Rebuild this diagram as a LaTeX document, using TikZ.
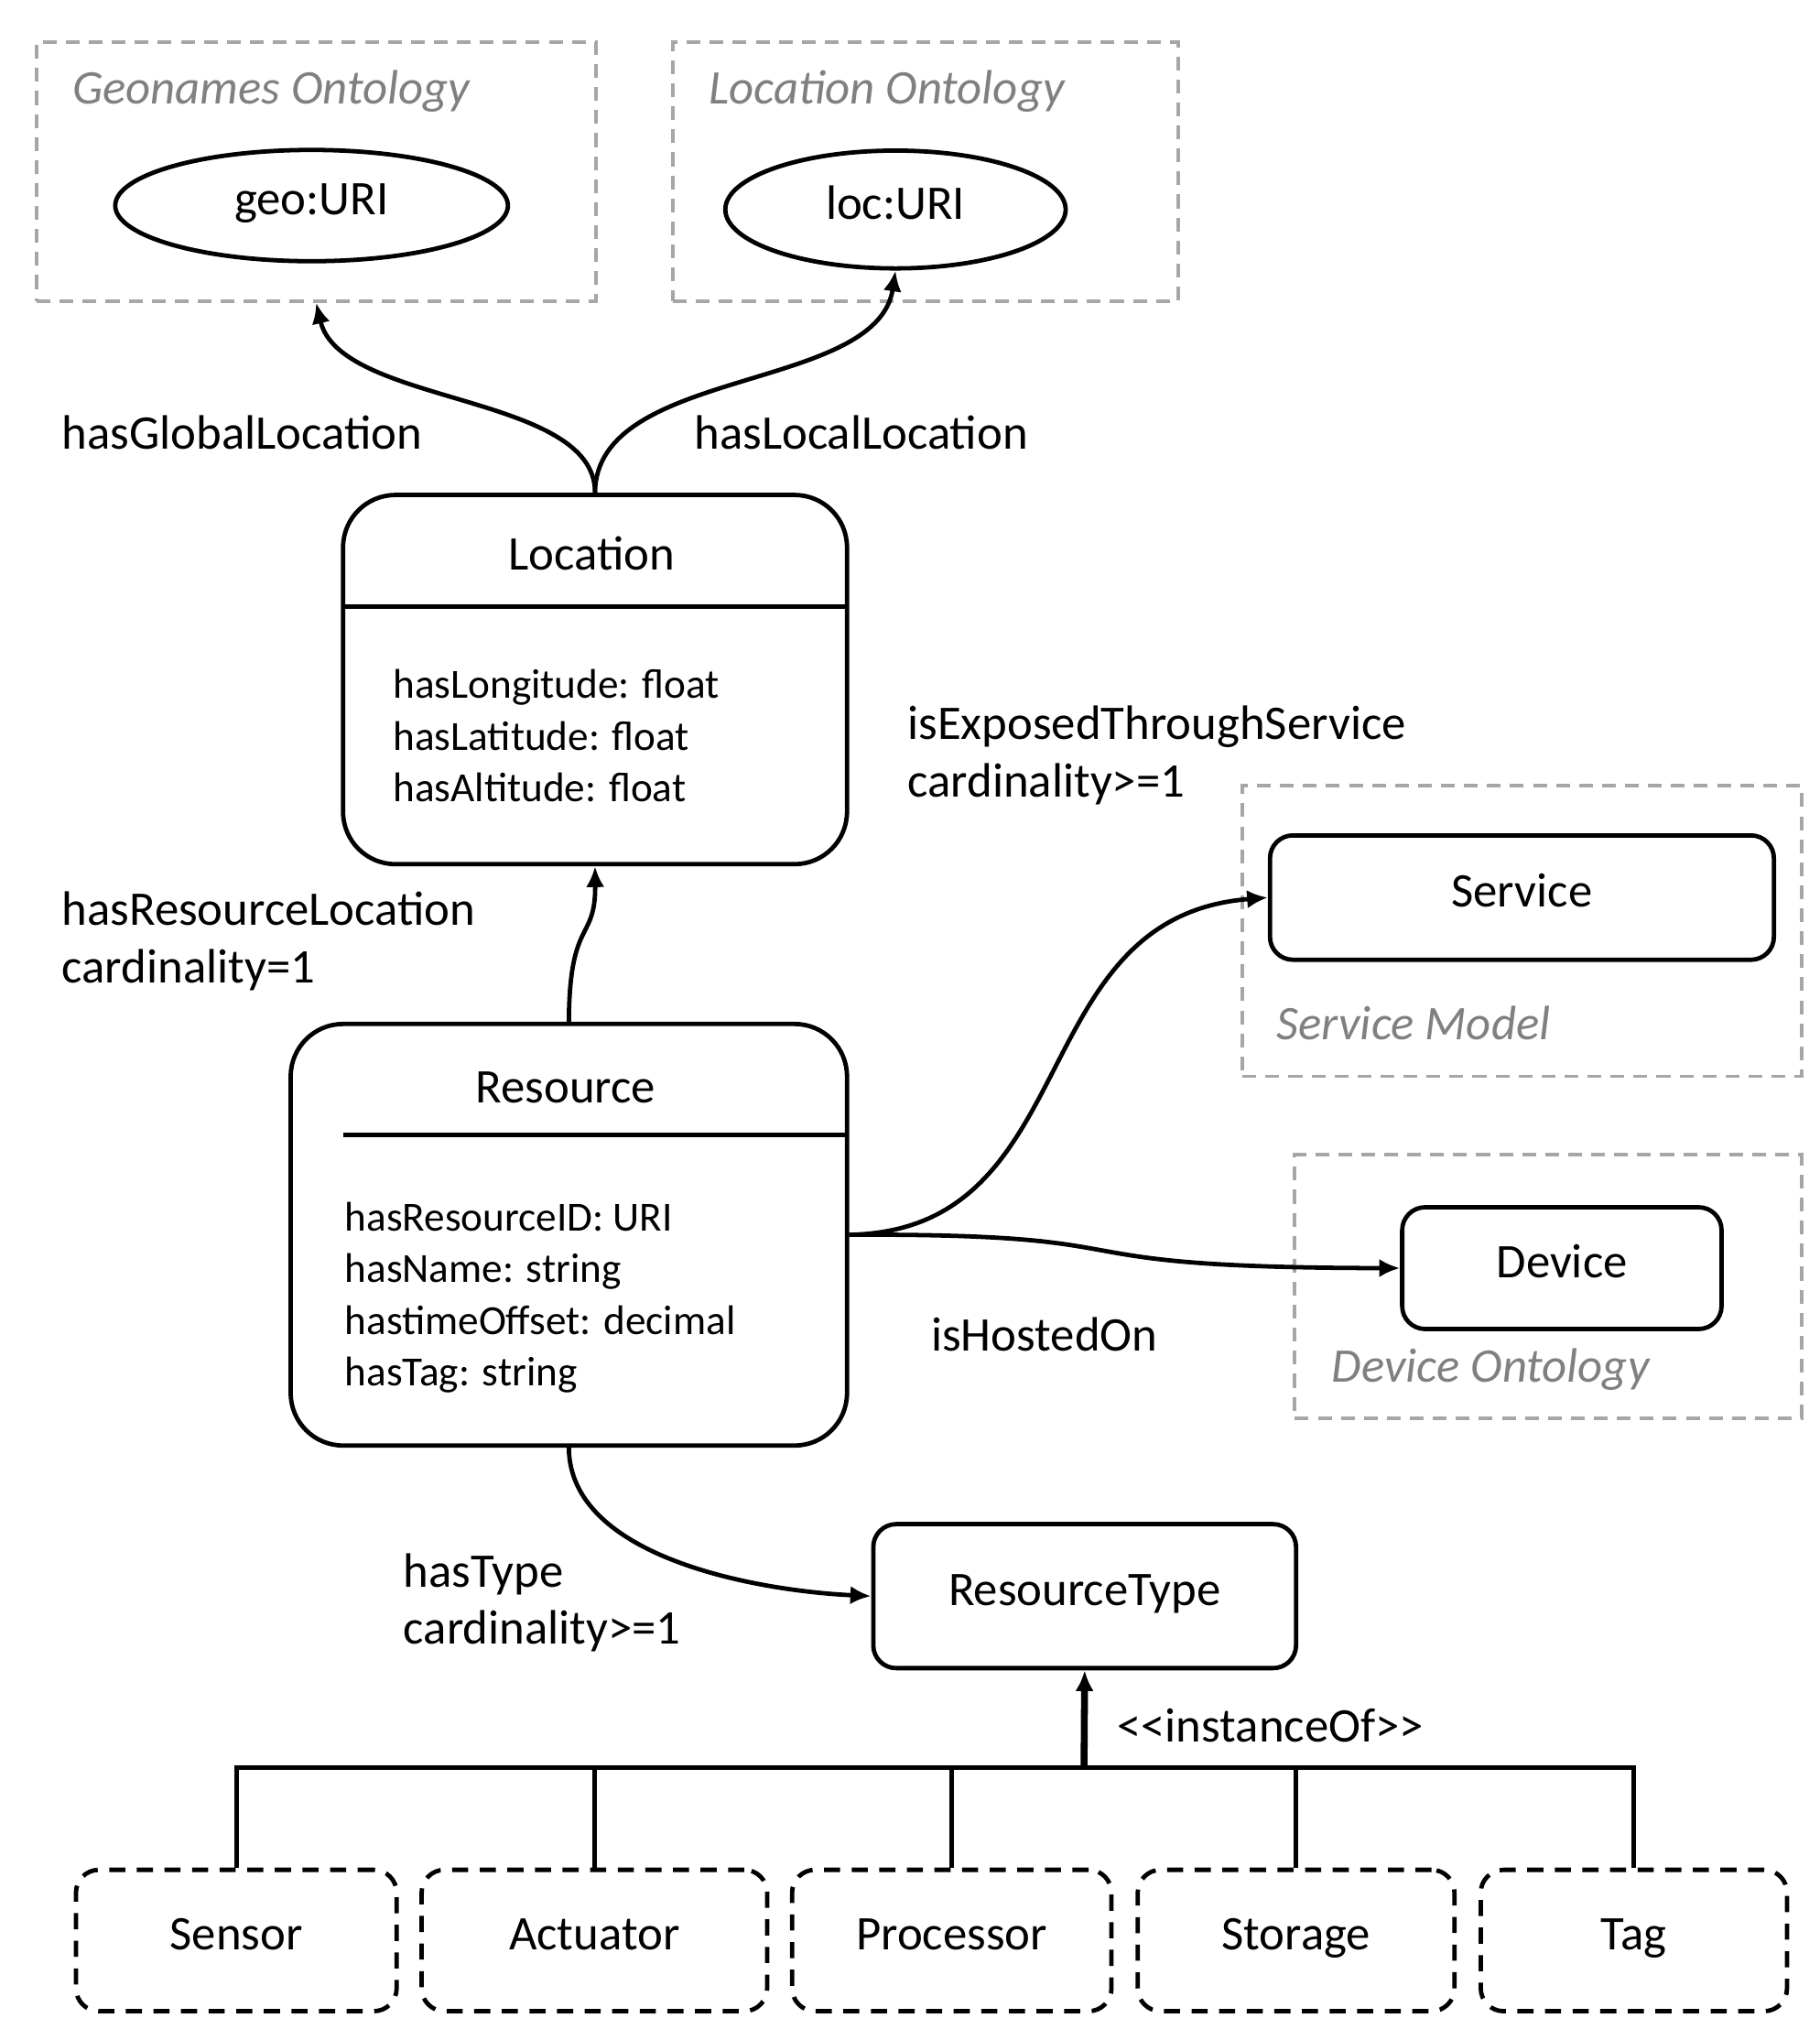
\documentclass[tikz,border=0pt]{standalone}
\usepackage{fontspec}
\setmainfont{Carlito}
\usetikzlibrary{shapes.geometric,arrows.meta}
\begin{document}
\begin{tikzpicture}[x=0.02cm,y=-0.02cm,
  big/.style={font=\fontsize{21}{25}\selectfont,text height=2.2ex,text depth=0.5ex},
  small/.style={font=\fontsize{18}{22.5}\selectfont},
  grp/.style={draw=gray!70,line width=1.5pt,dash pattern=on 6pt off 4pt},
  grptitle/.style={font=\fontsize{21}{25}\selectfont\itshape,text=gray,anchor=west,inner sep=0pt},
  cls/.style={draw,line width=1.9pt,rounded corners=0.8cm,inner sep=0pt},
  box/.style={draw,line width=1.9pt,rounded corners=0.35cm,inner sep=0pt,big},
  dbox/.style={box,dash pattern=on 7pt off 5pt,minimum height=2.16cm},
  uri/.style={draw,ellipse,line width=1.9pt,inner sep=0pt,big},
  arr/.style={line width=1.9pt,-{Latex[length=9pt,width=8pt]}},
  ln/.style={line width=1.9pt},
  lbl/.style={big,anchor=west,inner sep=0pt,text height=,text depth=}]
\useasboundingbox (0,0) rectangle (1390,1558);
% ontology groups
\node[grp,minimum width=8.54cm,minimum height=3.96cm,inner sep=0pt] (geobox) at (241.5,131) {};
\node[grptitle] (geot) at (55,70) {Geonames Ontology};
\node[uri,minimum width=6cm,minimum height=1.7cm] (geo) at (238,157) {geo:URI};
\node[grp,minimum width=7.72cm,minimum height=3.96cm,inner sep=0pt] (locbox) at (707,131) {};
\node[grptitle] (loct) at (541,70) {Location Ontology};
\node[uri,minimum width=5.2cm,minimum height=1.8cm] (locuri) at (684,160) {loc:URI};
\node[grp,minimum width=8.54cm,minimum height=4.44cm,inner sep=0pt] (svbox) at (1162.5,711) {};
\node[grptitle] (svt) at (975,781) {Service Model};
\node[box,minimum width=7.7cm,minimum height=1.9cm] (service) at (1162.5,685.5) {Service};
\node[grp,minimum width=7.74cm,minimum height=4.02cm,inner sep=0pt] (dvbox) at (1182.5,982.5) {};
\node[grptitle] (dvt) at (1017,1046) {Device Ontology};
\node[box,minimum width=4.88cm,minimum height=1.86cm] (device) at (1193,968.5) {Device};
% Location
\node[cls,minimum width=7.7cm,minimum height=5.64cm] (location) at (454.5,519) {};
\node[big] (loctitle) at (452,428) {Location};
\draw[ln] (262,463) -- (647,463);
\node[small,anchor=west,align=left,inner sep=0pt] (locattr) at (300,562) {hasLongitude: float\\hasLatitude: float\\hasAltitude: float};
% Resource
\node[cls,minimum width=8.5cm,minimum height=6.44cm] (resource) at (434.5,943) {};
\node[big] (restitle) at (432,835) {Resource};
\draw[ln] (262,867) -- (647,867);
\node[small,anchor=west,align=left,inner sep=0pt] (resattr) at (263,991) {hasResourceID: URI\\hasName: string\\hastimeOffset: decimal\\hasTag: string};
% Resource type
\node[box,minimum width=6.46cm,minimum height=2.2cm] (rtype) at (828.5,1219) {ResourceType};
\node[dbox,minimum width=4.9cm] (sensor) at (180.5,1482) {Sensor};
\node[dbox,minimum width=5.28cm] (actuator) at (454,1482) {Actuator};
\node[dbox,minimum width=4.88cm] (processor) at (727,1482) {Processor};
\node[dbox,minimum width=4.84cm] (storage) at (990,1482) {Storage};
\node[dbox,minimum width=4.68cm] (tag) at (1248,1482) {Tag};
% labels
\node[lbl] at (47,330) {hasGlobalLocation};
\node[lbl] at (530,330) {hasLocalLocation};
\node[lbl,align=left] at (693,577) {isExposedThroughService\\cardinality>=1};
\node[lbl,align=left] at (47,719) {hasResourceLocation\\cardinality=1};
\node[lbl] at (711,1019) {isHostedOn};
\node[lbl,align=left] at (308,1224) {hasType\\cardinality>=1};
\node[lbl] at (853,1318) {<{}<instanceOf>{}>};
% connectors
\draw[arr] (location.north) .. controls (455,300) and (260,310) .. (geobox.south);
\draw[arr] (location.north) .. controls (455,280) and (670,300) .. (locuri.south);
\draw[arr] (resource.north) .. controls (435,700) and (455,720) .. (location.south);
\draw[arr] (resource.east) .. controls (830,940) and (780,700) .. (service.west);
\draw[arr] (resource.east) .. controls (900,942) and (780,968) .. (device.west);
\draw[arr] (resource.south) .. controls (435,1190) and (580,1215) .. (rtype.west);
\coordinate (junc) at (828,1350);
\draw[arr,line width=3pt] (junc) -- (rtype.south);
\draw[ln] (sensor.north) |- (junc) -| (tag.north);
\draw[ln] (actuator.north) -- (actuator.north |- junc);
\draw[ln] (processor.north) -- (processor.north |- junc);
\draw[ln] (storage.north) -- (storage.north |- junc);
\end{tikzpicture}
\end{document}
